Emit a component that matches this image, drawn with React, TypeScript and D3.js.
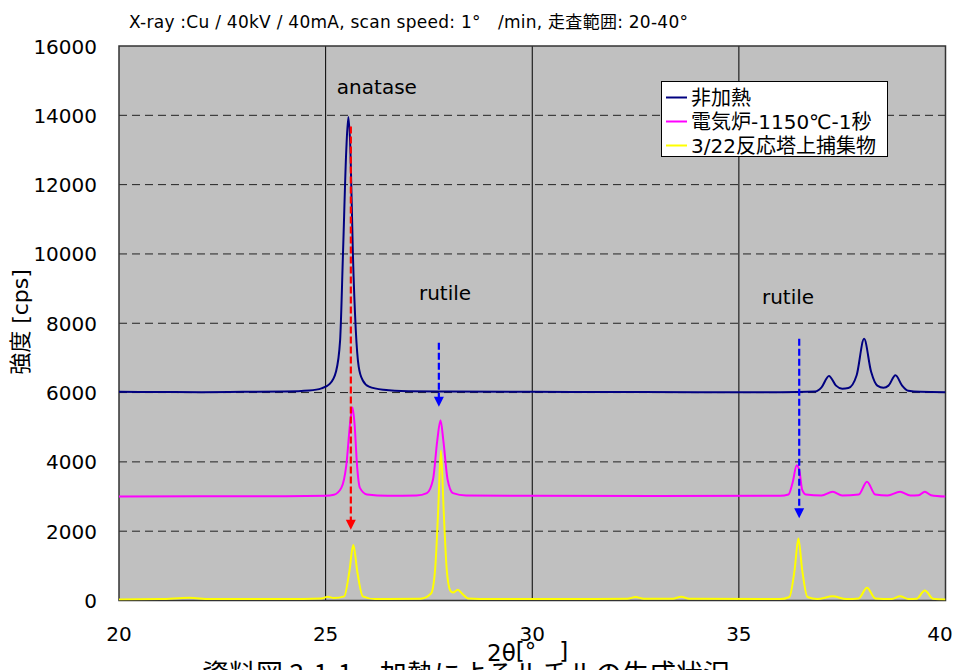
import React from 'react';
import * as d3 from 'd3';

// ---- data ----
const xTicks = [20, 25, 30, 35, 40];
const yTicks = [0, 2000, 4000, 6000, 8000, 10000, 12000, 14000, 16000];
const seriesNames = ['非加熱', '電気炉-1150℃-1秒', '3/22反応塔上捕集物'];

// 2θ, cps
const unheated: [number, number][] = [
  [20, 6020], [21, 6015], [22, 6010], [23, 6020], [24, 6030], [24.6, 6060], [24.9, 6120],
  [25.1, 6250], [25.25, 6600], [25.35, 7500], [25.42, 10000], [25.5, 13000], [25.55, 13950],
  [25.6, 13000], [25.66, 10000], [25.73, 7800], [25.8, 6750], [25.9, 6350], [26.05, 6170],
  [26.4, 6080], [27, 6040], [28, 6030], [30, 6020], [32, 6015], [34, 6010], [36, 6010],
  [36.85, 6030], [37.0, 6150], [37.18, 6480], [37.35, 6200], [37.5, 6110], [37.65, 6130],
  [37.85, 6500], [38.03, 7550], [38.2, 6600], [38.35, 6200], [38.5, 6140], [38.62, 6200],
  [38.79, 6500], [38.95, 6200], [39.1, 6050], [39.4, 6020], [40, 6010],
];
const furnace: [number, number][] = [
  [20, 3000], [22, 3005], [24, 3010], [25, 3020], [25.2, 3050], [25.38, 3250], [25.5, 3900],
  [25.6, 5200], [25.65, 5570], [25.7, 5100], [25.76, 3900], [25.83, 3250], [26, 3060],
  [26.5, 3020], [27.2, 3030], [27.45, 3100], [27.6, 3500], [27.7, 4600], [27.78, 5200],
  [27.85, 4600], [27.95, 3500], [28.08, 3100], [28.4, 3030], [30, 3020], [33, 3015],
  [36, 3020], [36.2, 3060], [36.3, 3400], [36.4, 3900], [36.47, 3700], [36.53, 3200],
  [36.62, 3060], [37.0, 3030], [37.27, 3140], [37.5, 3030], [37.9, 3060], [38.1, 3430],
  [38.3, 3060], [38.6, 3030], [38.9, 3140], [39.15, 3030], [39.35, 3040], [39.5, 3140],
  [39.65, 3040], [40, 3000],
];
const collected: [number, number][] = [
  [20, 30], [21, 40], [21.7, 80], [22.2, 40], [24, 40], [24.9, 60], [25.05, 110], [25.2, 70],
  [25.45, 120], [25.57, 800], [25.67, 1600], [25.77, 800], [25.9, 120], [26.2, 40], [27.3, 50],
  [27.55, 200], [27.65, 900], [27.72, 2500], [27.79, 4330], [27.86, 2500], [27.93, 900],
  [28.02, 280], [28.08, 230], [28.2, 310], [28.3, 200], [28.45, 60], [29, 40], [31, 40],
  [32.3, 50], [32.5, 100], [32.7, 50], [33.4, 50], [33.6, 110], [33.8, 50], [36, 40],
  [36.22, 100], [36.35, 900], [36.44, 1790], [36.53, 900], [36.66, 100], [36.9, 40],
  [37.27, 120], [37.6, 40], [37.9, 60], [38.1, 370], [38.3, 60], [38.7, 40], [38.9, 120],
  [39.1, 40], [39.3, 50], [39.5, 290], [39.7, 50], [40, 30],
];

const peakLabels = ['anatase', 'rutile', 'rutile'];
const peakLabelAt: [number, number][] = [[26.24, 14615], [27.89, 8671], [36.19, 8556]];

// arrows: x, from, to
const arrowX = [25.61, 27.74, 36.46];
const arrowFrom = [13680, 7435, 7550];
const arrowTo = [2040, 5590, 2375];

const topNote = 'X-ray :Cu / 40kV / 40mA, scan speed: 1°\u3000/min, 走査範囲: 20-40°';
const caption = '資料図 3-1-1　加熱によるルチルの生成状況';

// ---- styles ----
const colors = ['#000080', '#FF00FF', '#FFFF00'];
const arrowColors = ['#FF0000', '#0000FF', '#0000FF'];
const FONT = '"DejaVu Sans", "Noto Sans CJK JP", sans-serif';
const JFONT = '"Noto Sans CJK JP", "DejaVu Sans", sans-serif';

export default function App() {
  const W = 956, H = 670;
  const L = 119, R = 945.5, T = 46, B = 600.5;
  const x = d3.scaleLinear().domain([20, 40]).range([L, R]);
  const y = d3.scaleLinear().domain([0, 16000]).range([B, T]);
  const line = d3.line<[number, number]>().x(d => x(d[0])).y(d => y(d[1])).curve(d3.curveMonotoneX);
  const series = [unheated, furnace, collected];

  return (
    <div>
      <style>{`body{margin:0;}`}</style>
      <svg width={W} height={H} style={{ display: 'block' }}>
        <rect x={0} y={0} width={W} height={H} fill="#fff" />
        <defs>
          <clipPath id="plot">
            <rect x={L} y={T} width={R - L} height={B - T} />
          </clipPath>
        </defs>
        <text x={129} y={28} fontFamily={FONT} fontSize={17} textLength={559} lengthAdjust="spacing" fill="#000">{topNote}</text>
        <rect x={L} y={T} width={R - L} height={B - T} fill="#C0C0C0" />
        {yTicks.filter(v => v > 0 && v < 16000).map(v => (
          <line key={'g' + v} x1={L} x2={R} y1={y(v)} y2={y(v)} stroke="#222" strokeWidth={1} strokeDasharray="8,5" />
        ))}
        {xTicks.filter(v => v > 20 && v < 40).map(v => (
          <line key={'v' + v} x1={x(v)} x2={x(v)} y1={T} y2={B} stroke="#000" strokeWidth={1} />
        ))}
        <rect x={L} y={T} width={R - L} height={B - T} fill="none" stroke="#333" strokeWidth={1.5} />
        <g clipPath="url(#plot)">
          {series.map((s, i) => (
            <path key={i} d={line(s) || ''} fill="none" stroke={colors[i]} strokeWidth={2} strokeLinejoin="round" />
          ))}
        </g>
        {arrowX.map((ax, i) => {
          const px = x(ax), y0 = y(arrowFrom[i]), y1 = y(arrowTo[i]);
          return (
            <g key={'a' + i}>
              <line x1={px} x2={px} y1={y0} y2={y1 - 9} stroke={arrowColors[i]} strokeWidth={2.2} strokeDasharray="7,3" />
              <path d={`M${px - 5},${y1 - 10}L${px + 5},${y1 - 10}L${px},${y1}Z`} fill={arrowColors[i]} />
            </g>
          );
        })}
        {peakLabels.map((t, i) => (
          <text key={'p' + i} x={x(peakLabelAt[i][0])} y={y(peakLabelAt[i][1])} textAnchor="middle" fontFamily={FONT} fontSize={20} fill="#000">{t}</text>
        ))}
        {/* legend */}
        <rect x={661.5} y={81.5} width={226} height={75} fill="#fff" stroke="#000" strokeWidth={1} />
        {seriesNames.map((n, i) => (
          <g key={'l' + i}>
            <line x1={666} x2={687} y1={97.5 + i * 24} y2={97.5 + i * 24} stroke={colors[i]} strokeWidth={2} />
            <text x={691} y={104.5 + i * 24} fontFamily={FONT} fontSize={20} fill="#000">{n}</text>
          </g>
        ))}
        {yTicks.map(v => (
          <text key={'yt' + v} x={97} y={y(v) + 7.5} textAnchor="end" fontFamily={FONT} fontSize={20} fill="#000">{v}</text>
        ))}
        {xTicks.map(v => (
          <text key={'xt' + v} x={Math.min(x(v), W - 16)} y={641} textAnchor="middle" fontFamily={FONT} fontSize={20} fill="#000">{v}</text>
        ))}
        <text transform={`translate(28,322) rotate(-90)`} textAnchor="middle" fontFamily={FONT} fontSize={22} fill="#000">強度 [cps]</text>
        <text x={202} y={684} fontFamily={JFONT} fontSize={27} fill="#000">{caption}</text>
        <text x={487} y={661} fontFamily={FONT} fontSize={23} fill="#000">2θ<tspan dy={-2}>[°{'\u3000'}]</tspan></text>
      </svg>
    </div>
  );
}
